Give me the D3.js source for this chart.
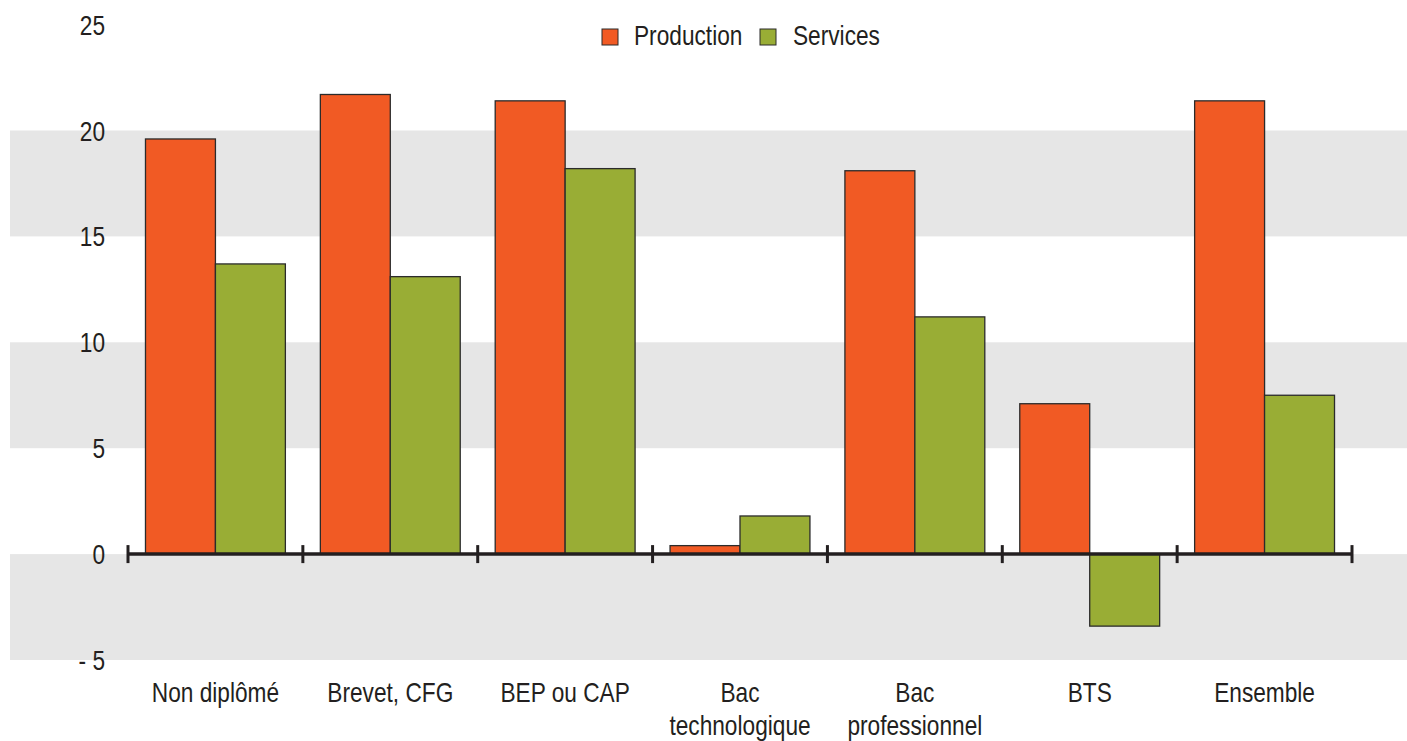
<!DOCTYPE html>
<html>
<head>
<meta charset="utf-8">
<script src="https://cdn.jsdelivr.net/npm/d3@7"></script>
<style>
  html, body { margin: 0; padding: 0; background: #fff; }
  svg { display: block; }
  text { font-family: "Liberation Sans", Arial, sans-serif; fill: #231f20; }
</style>
</head>
<body>
<svg id="chart" width="1407" height="741"></svg>
<script>
// Categories (diplôme) and series values
const categories = [
  ["Non diplômé"],
  ["Brevet, CFG"],
  ["BEP ou CAP"],
  ["Bac", "technologique"],
  ["Bac", "professionnel"],
  ["BTS"],
  ["Ensemble"]
];
const seriesNames = ["Production", "Services"];
const production = [19.6, 21.7, 21.4, 0.4, 18.1, 7.1, 21.4];
const services = [13.7, 13.1, 18.2, 1.8, 11.2, -3.4, 7.5];
const yTicks = [-5, 0, 5, 10, 15, 20, 25];
const yTickLabels = ["- 5", "0", "5", "10", "15", "20", "25"];
const shadedBands = [[15, 20], [5, 10], [-5, 0]];

const colors = { Production: "#f15a24", Services: "#99ad35" };

const FONT = 28;
const CONDENSE = 0.81; // horizontal squeeze for a condensed face

const svg = d3.select("#chart");
const W = 1407;

const y = d3.scaleLinear().domain([-5, 25]).range([660, 24.6]);
const x0 = d3.scaleBand().domain(d3.range(categories.length)).range([128, 1352]).padding(0);
const step = x0.bandwidth();
const x1 = d3.scaleBand().domain(seriesNames).range([step * 0.1, step * 0.9]).padding(0);

// condensed text helper: anchored at (x, y)
function label(parent, x, yy, txt, anchor, dy) {
  const g = parent.append("g").attr("transform", `translate(${x},${yy}) scale(${CONDENSE},1)`);
  g.append("text")
    .attr("text-anchor", anchor || "start")
    .attr("dy", dy || 0)
    .attr("font-size", FONT)
    .text(txt);
  return g;
}

// Shaded horizontal bands
svg.append("g").selectAll("rect")
  .data(shadedBands)
  .join("rect")
  .attr("x", 10)
  .attr("width", W - 10)
  .attr("y", d => y(d[1]))
  .attr("height", d => y(d[0]) - y(d[1]))
  .attr("fill", "#e6e6e6");

// Y labels
const yl = svg.append("g");
yTicks.forEach((t, i) => label(yl, 105, y(t), yTickLabels[i], "end", "0.36em"));

// Bars
const rows = categories.map((c, i) => ({ i, values: [
  { key: "Production", v: production[i] },
  { key: "Services", v: services[i] }
]}));

const groups = svg.append("g").selectAll("g")
  .data(rows)
  .join("g")
  .attr("transform", d => `translate(${x0(d.i)},0)`);

groups.selectAll("rect")
  .data(d => d.values)
  .join("rect")
  .attr("x", d => x1(d.key))
  .attr("width", x1.bandwidth())
  .attr("y", d => y(Math.max(0, d.v)))
  .attr("height", d => Math.abs(y(d.v) - y(0)))
  .attr("fill", d => colors[d.key])
  .attr("stroke", "#2b2b2b")
  .attr("stroke-width", 1.3);

// Zero axis with boundary ticks
const axis = svg.append("g");
axis.append("line")
  .attr("x1", x0.range()[0]).attr("x2", x0.range()[1])
  .attr("y1", y(0)).attr("y2", y(0))
  .attr("stroke", "#231f20").attr("stroke-width", 3.5);
axis.selectAll("line.tick")
  .data(d3.range(categories.length + 1))
  .join("line")
  .attr("class", "tick")
  .attr("x1", d => x0.range()[0] + d * step)
  .attr("x2", d => x0.range()[0] + d * step)
  .attr("y1", y(0) - 9).attr("y2", y(0) + 9)
  .attr("stroke", "#231f20").attr("stroke-width", 3);

// Category labels
const cl = svg.append("g");
categories.forEach((lines, i) => {
  lines.forEach((ln, j) => label(cl, x0(i) + step / 2, 702 + j * 33, ln, "middle"));
});

// Legend
const legendItems = [
  { key: "Production", sx: 602, tx: 634 },
  { key: "Services", sx: 760, tx: 793 }
];
const leg = svg.append("g");
legendItems.forEach(d => {
  leg.append("rect")
    .attr("x", d.sx).attr("y", 29)
    .attr("width", 16).attr("height", 16)
    .attr("fill", colors[d.key])
    .attr("stroke", "#2b2b2b").attr("stroke-width", 1);
  label(leg, d.tx, 45, d.key, "start");
});
</script>
</body>
</html>
